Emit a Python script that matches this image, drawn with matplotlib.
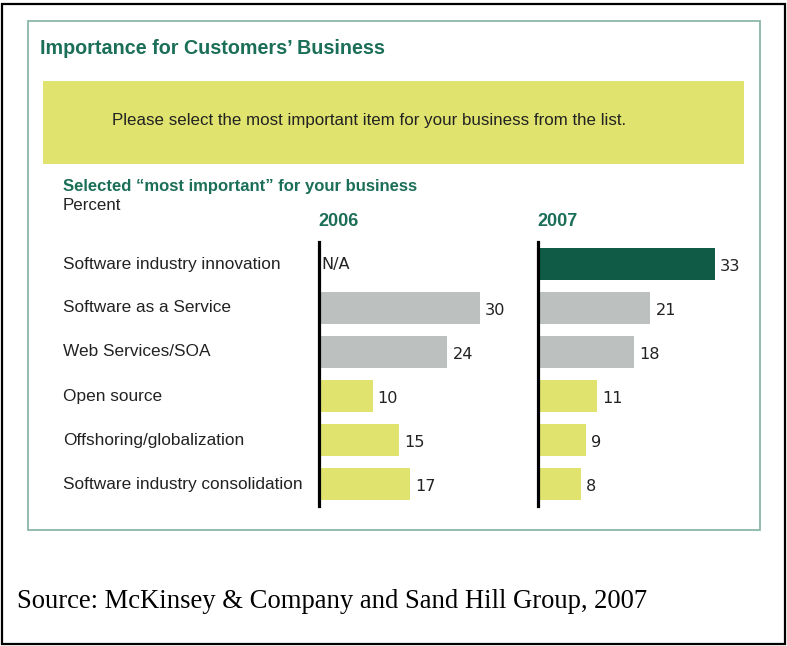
import matplotlib
matplotlib.use("Agg")
import matplotlib.pyplot as plt
import matplotlib.transforms as mtransforms
from matplotlib.patches import Rectangle

plt.rcParams["font.family"] = ["Liberation Sans", "DejaVu Sans"]

categories = [
    "Software industry innovation",
    "Software as a Service",
    "Web Services/SOA",
    "Open source",
    "Offshoring/globalization",
    "Software industry consolidation",
]
years = ["2006", "2007"]
values_2006 = [None, 30, 24, 10, 15, 17]
values_2007 = [33, 21, 18, 11, 9, 8]

GREEN_TEXT = "#1b6e57"
DARK_GREEN = "#0f5b46"
GREY = "#bcc0bf"
YELLOW = "#e0e46e"
FRAME = "#8ab8a8"
TEXT = "#222222"
colors = [DARK_GREEN, GREY, GREY, YELLOW, YELLOW, YELLOW]

W, H = 787, 646
fig = plt.figure(figsize=(W / 100, H / 100), dpi=100)


def box(x, y, w, h):
    """Pixel box (top-left origin) -> figure fraction rect."""
    return [x / W, 1 - (y + h) / H, w / W, h / H]


def fx(x):
    return x / W


def fy(y):
    return 1 - y / H


# outer black frame, inner panel frame, yellow question band
fig.patches.append(Rectangle((fx(2), fy(644)), fx(783), 640 / H, transform=fig.transFigure,
                             fill=False, edgecolor="black", linewidth=1.6))
fig.patches.append(Rectangle((fx(28), fy(530)), fx(732), 509 / H, transform=fig.transFigure,
                             fill=False, edgecolor=FRAME, linewidth=1.3))
fig.patches.append(Rectangle((fx(43), fy(164)), fx(701), 83 / H, transform=fig.transFigure,
                             facecolor=YELLOW, edgecolor="none"))

fig.text(fx(40), fy(49), "Importance for Customers\u2019 Business", color=GREEN_TEXT,
         fontsize=14.2, fontweight="bold", va="center")
fig.text(fx(112), fy(120), "Please select the most important item for your business from the list.",
         fontsize=12.2, ha="left", va="center", color=TEXT)
fig.text(fx(63), fy(186), "Selected \u201cmost important\u201d for your business", color=GREEN_TEXT,
         fontsize=12, fontweight="bold", va="center")
fig.text(fx(63), fy(205), "Percent", fontsize=12.2, va="center", color=TEXT)

PX_PER_UNIT = 5.35
panel_w = 200
rows = list(range(len(categories)))
num_font = dict(family="DejaVu Sans", fontsize=11.6, color=TEXT)

for i, (year, vals, left) in enumerate(zip(years, [values_2006, values_2007], [319, 538])):
    ax = fig.add_axes(box(left, 242, panel_w, 264))
    ax.set_xlim(0, panel_w / PX_PER_UNIT)
    ax.set_ylim(len(categories) - 0.5, -0.5)
    for r, v, c in zip(rows, vals, colors):
        if v is None:
            ax.text(0.45, r, "N/A", va="center", ha="left", **num_font)
            continue
        ax.barh(r, v, height=0.71, color=c, left=0)
        ax.text(v + 0.95, r + 0.05, f"{v}", va="center", ha="left", **num_font)
    for s in ["top", "right", "bottom"]:
        ax.spines[s].set_visible(False)
    ax.spines["left"].set_linewidth(2.3)
    ax.set_xticks([])
    ax.set_yticks([])
    ax.patch.set_alpha(0)
    fig.text(fx(left - 1), fy(222), year, color=GREEN_TEXT, fontsize=13, fontweight="bold",
             va="center", ha="left")
    if i == 0:
        trans = mtransforms.blended_transform_factory(fig.transFigure, ax.transData)
        for r, cat in zip(rows, categories):
            ax.text(fx(63), r, cat, transform=trans, va="center", ha="left",
                    fontsize=12.4, color=TEXT)

fig.text(fx(17), fy(601), "Source: McKinsey & Company and Sand Hill Group, 2007",
         family="Liberation Serif", fontsize=19.2, va="center", ha="left", color="black")

fig.savefig("out.png", dpi=100)
